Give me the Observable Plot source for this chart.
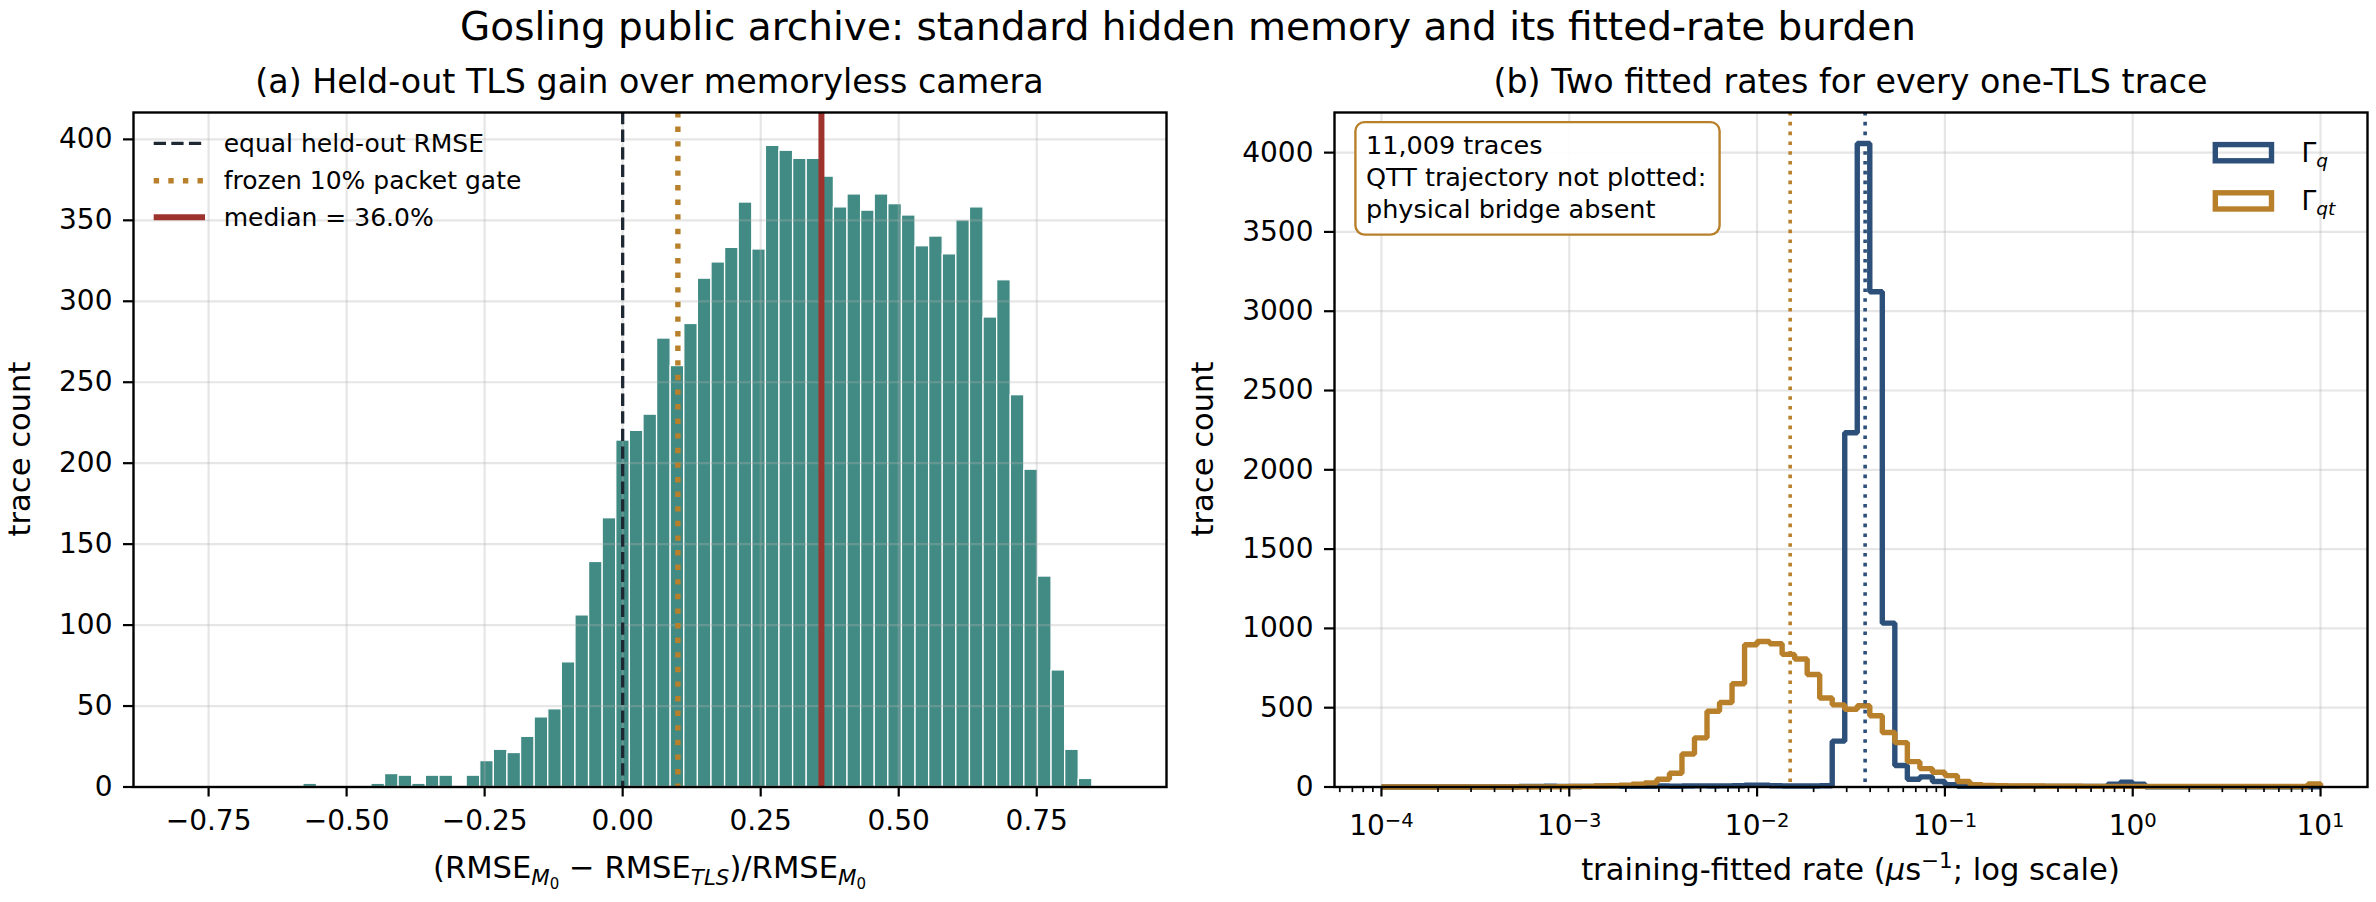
<!DOCTYPE html>
<html><head><meta charset="utf-8">
<script src="https://cdn.jsdelivr.net/npm/d3@7"></script>
<script src="https://cdn.jsdelivr.net/npm/@observablehq/plot@0.6"></script>
<style>
html,body{margin:0;padding:0;background:#fff;}
#fig{position:relative;width:2376px;height:902px;overflow:hidden;background:#fff;font-family:"DejaVu Sans";}
#panelA{position:absolute;left:0;top:0;}
#panelB{position:absolute;left:1200px;top:0;}
#overlay{position:absolute;left:0;top:0;pointer-events:none;}
</style></head>
<body>
<div id="fig"><div id="panelA"></div><div id="panelB"></div><svg id="overlay" width="2376" height="902"></svg></div>
<script>
// ---------- data: panel (a) ----------
const gainRange = [-0.8, 0.9];          // histogram range, 69 equal bins
const gainCounts = [0,0,0,0,0,0,0,0,0, 2, 0,0,0,0, 2,8,7,2,7,7, 0,
  7,16,23,21,31,43,48,77,106,139,166,
  214,220,230,277,260,286,314,324,333,361,332,396,393,388,388,377,358,366,356,366,
  360,353,334,340,329,350,358,290,313,242,196,130,72,23,5, 0,0];
const gainTicks = [-0.75, -0.5, -0.25, 0, 0.25, 0.5, 0.75];
const countTicksA = [0, 50, 100, 150, 200, 250, 300, 350, 400];
const equalRmse = 0.0;
const packetGate = 0.10;
const medianGain = 0.360;
const legendA = ["equal held-out RMSE", "frozen 10% packet gate", "median = 36.0%"];

// ---------- data: panel (b) ----------
const rateDecades = [-4, 1];            // log10 range, 15 bins per decade
const rateBinsPerDecade = 15;
const gammaQCounts = [0,0,0,0,0,0,0,0,0,0,0,
  3,4,5,4,3,4,5,6,5,4,5,6,5,6,7,6,7,8,
  12,12,8,6,6,6,8,
  289,2234,4058,3123,1033,136,49,64,35,15,
  4,4,4,4,4,4,4,4,4,4,4,4,
  18,30,18,
  2,2,2,2,2,2,2,2,2,2,2,2,2,2];
const gammaQtCounts = [0,0,0,0,0,0,0,0,0,0,0,0,0,
  1,2,3,4,6,8,12,17,26,49,87,208,310,478,533,651,897,917,903,836,807,709,561,518,
  490,512,449,344,280,160,116,93,72,35,15,10,8,7,
  6,6,5,5,5,4,4,4,4,4,
  3,3,3,3,3,3,3,3,3,3,3,3,3,
  20];
const gammaQMedian = 0.0376;
const gammaQtMedian = 0.0150;
const rateTicks = [1e-4, 1e-3, 1e-2, 1e-1, 1, 10];
const countTicksB = [0, 500, 1000, 1500, 2000, 2500, 3000, 3500, 4000];
const nTraces = 11009;
const boxLines = [`${d3.format(",")(nTraces)} traces`, "QTT trajectory not plotted:", "physical bridge absent"];

// ---------- styles ----------
const teal = "#418b84", gold = "#b8802b", blue = "#2d507a", red = "#9e332e", dark = "#1e2833";
const gridStyle = {stroke: "#b0b0b0", strokeOpacity: 0.32, strokeWidth: 2.2};
const plotStyle = {fontFamily: "'DejaVu Sans'", fontSize: "28px", background: "transparent", overflow: "visible", color: "#000"};

// ---------- panel (a) ----------
const nA = gainCounts.length;
const gainEdges = d3.range(nA + 1).map(i => gainRange[0] + i * (gainRange[1] - gainRange[0]) / nA);
const gainBins = gainCounts.map((c, i) => ({x1: gainEdges[i], x2: gainEdges[i + 1], n: c})).filter(d => d.n > 0);

const plotA = Plot.plot({
  width: 1200, height: 902,
  marginLeft: 133, marginRight: 34, marginTop: 112, marginBottom: 115.5,
  style: plotStyle,
  x: {domain: [-0.886, 0.985]},
  y: {domain: [0, 416.6]},
  marks: [
    Plot.rectY(gainBins, {x1: "x1", x2: "x2", y: "n", fill: teal, stroke: "white", strokeWidth: 1.3, inset: 0}),
    Plot.gridX(gainTicks, gridStyle),
    Plot.gridY(countTicksA, gridStyle),
    Plot.ruleX([equalRmse], {stroke: dark, strokeWidth: 3.3, strokeDasharray: "12.3,5.3"}),
    Plot.ruleX([packetGate], {stroke: gold, strokeWidth: 5.4, strokeDasharray: "5.4,9.2"}),
    Plot.ruleX([medianGain], {stroke: red, strokeWidth: 6}),
    Plot.axisX(gainTicks, {tickSize: 10, tickPadding: 13.6, strokeWidth: 2.2, label: null, tickFormat: d3.format(".2f")}),
    Plot.axisY(countTicksA, {tickSize: 10, tickPadding: 11, strokeWidth: 2.2, label: null, tickFormat: d => String(d)}),
    Plot.frame({stroke: "#000", strokeWidth: 2.4})
  ]
});
document.getElementById("panelA").appendChild(plotA);

// ---------- panel (b) ----------
const nB = gammaQCounts.length;
const rateEdges = d3.range(nB + 1).map(k => Math.pow(10, rateDecades[0] + k / rateBinsPerDecade));
function stepPoints(counts) {
  const pts = [{x: rateEdges[0], y: 0}];
  counts.forEach((c, i) => pts.push({x: rateEdges[i], y: c}));
  pts.push({x: rateEdges[counts.length], y: 0});
  return pts;
}
const minorTicks = [];
for (let d = -5; d <= 1; d++) for (let m = 2; m <= 9; m++) {
  const v = m * Math.pow(10, d);
  if (v > Math.pow(10, -4.25) && v < Math.pow(10, 1.25)) minorTicks.push(v);
}
const plotB = Plot.plot({
  width: 1176, height: 902,
  marginLeft: 134, marginRight: 9, marginTop: 112, marginBottom: 115.5,
  style: plotStyle,
  x: {type: "log", domain: [Math.pow(10, -4.25), Math.pow(10, 1.25)]},
  y: {domain: [0, 4253]},
  marks: [
    Plot.gridX(rateTicks, gridStyle),
    Plot.gridY(countTicksB, gridStyle),
    Plot.line(stepPoints(gammaQCounts), {x: "x", y: "y", curve: "step-after", stroke: blue, strokeWidth: 5.4, strokeLinejoin: "miter", strokeLinecap: "butt"}),
    Plot.line(stepPoints(gammaQtCounts), {x: "x", y: "y", curve: "step-after", stroke: gold, strokeWidth: 5.4, strokeLinejoin: "miter", strokeLinecap: "butt"}),
    Plot.ruleX([gammaQtMedian], {stroke: gold, strokeWidth: 3.6, strokeDasharray: "3.6,6.2"}),
    Plot.ruleX([gammaQMedian], {stroke: blue, strokeWidth: 3.6, strokeDasharray: "3.6,6.2"}),
    Plot.axisX(minorTicks, {tickSize: 5.6, strokeWidth: 1.7, label: null, tickFormat: () => ""}),
    Plot.axisX(rateTicks, {tickSize: 10, tickPadding: 18.6, strokeWidth: 2.2, label: null, tickFormat: d => "10^" + Math.round(Math.log10(d))}),
    Plot.axisY(countTicksB, {tickSize: 10, tickPadding: 11, strokeWidth: 2.2, label: null, tickFormat: d => String(d)}),
    Plot.frame({stroke: "#000", strokeWidth: 2.4})
  ]
});
document.getElementById("panelB").appendChild(plotB);

// log tick labels as 10 with superscript exponents; drop empty minor labels
d3.select(plotB).selectAll("text").each(function () {
  const s = this.textContent;
  if (s === "") { this.remove(); return; }
  const m = /^10\^(-?\d+)$/.exec(s);
  if (m) {
    const e = +m[1];
    const sel = d3.select(this);
    sel.text("10");
    sel.append("tspan").attr("dy", "-0.43em").attr("font-size", "0.7em").text((e < 0 ? "\u2212" : "") + Math.abs(e));
  }
});

// ---------- overlay text, legends, annotation ----------
const ov = d3.select("#overlay");
function txt(x, y, size, anchor, content, transform) {
  const el = ov.append("text").attr("x", x).attr("y", y).attr("font-size", size)
    .attr("text-anchor", anchor).attr("font-family", "DejaVu Sans").attr("fill", "#000");
  if (typeof content === "string") el.text(content);
  else content.forEach(p => {
    const ts = el.append("tspan").text(p.t).attr("font-size", p.size || size);
    if (p.dy) ts.attr("dy", p.dy);
    if (p.it) ts.attr("font-style", "italic");
  });
  if (transform) el.attr("transform", transform);
  return el;
}

txt(1188, 40, 39, "middle", "Gosling public archive: standard hidden memory and its fitted-rate burden");
txt(649.5, 93, 33.3, "middle", "(a) Held-out TLS gain over memoryless camera");
txt(1850.5, 93, 33.3, "middle", "(b) Two fitted rates for every one-TLS trace");
txt(0, 0, 30.6, "middle", "trace count", "translate(29.5,449) rotate(-90)");
txt(0, 0, 30.6, "middle", "trace count", "translate(1213,449) rotate(-90)");
txt(649.5, 878, 30.6, "middle", [
  {t: "(RMSE"}, {t: "M", size: 21.4, dy: 7, it: true}, {t: "0", size: 15, dy: 3.5},
  {t: " \u2212 RMSE", dy: -10.5}, {t: "TLS", size: 21.4, dy: 7, it: true},
  {t: ")/RMSE", dy: -7}, {t: "M", size: 21.4, dy: 7, it: true}, {t: "0", size: 15, dy: 3.5}
]);
txt(1850.5, 880, 30.6, "middle", [
  {t: "training-fitted rate ("}, {t: "\u03bc", it: true}, {t: "s"},
  {t: "\u22121", size: 21.4, dy: -12}, {t: "; log scale)", dy: 12}
]);

// legend (a)
const legA = ov.append("g");
const rowsA = [143.3, 180.7, 217.3];
const styleA = [
  {stroke: dark, w: 3.3, dash: "12.3,5.3"},
  {stroke: gold, w: 5.4, dash: "5.4,9.2"},
  {stroke: red, w: 6, dash: null}
];
legendA.forEach((label, i) => {
  const l = legA.append("line").attr("x1", 153.7).attr("x2", 205).attr("y1", rowsA[i]).attr("y2", rowsA[i])
    .attr("stroke", styleA[i].stroke).attr("stroke-width", styleA[i].w);
  if (styleA[i].dash) l.attr("stroke-dasharray", styleA[i].dash);
  txt(223.7, rowsA[i] + 8.6, 25, "start", label);
});

// legend (b)
const legB = [{c: blue, y: 152.7, sub: "q"}, {c: gold, y: 200.9, sub: "qt"}];
legB.forEach(d => {
  ov.append("rect").attr("x", 2215.3).attr("y", d.y - 8.1).attr("width", 56.2).attr("height", 16.2)
    .attr("fill", "none").attr("stroke", d.c).attr("stroke-width", 5.4);
  txt(2301.5, d.y + 8.8, 26.5, "start", [{t: "\u0393"}, {t: d.sub, size: 18.5, dy: 5, it: true}]);
});

// annotation box (b)
ov.append("rect").attr("x", 1355.4).attr("y", 122.1).attr("width", 364.2).attr("height", 112.5)
  .attr("rx", 9).attr("ry", 9).attr("fill", "white").attr("fill-opacity", 0.92)
  .attr("stroke", gold).attr("stroke-width", 2.4);
boxLines.forEach((s, i) => txt(1366, 154 + i * 31.8, 25.5, "start", s));
</script>
</body></html>
